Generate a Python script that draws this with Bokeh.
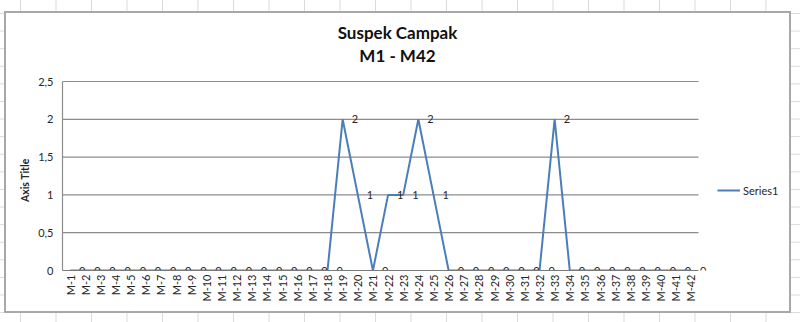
import math
from bokeh.plotting import figure
from bokeh.models import (Range1d, FixedTicker, CustomJSTickFormatter,
                          Label, Legend, LegendItem, ColumnDataSource)
from bokeh.core.properties import value
from bokeh.embed import file_html
from bokeh.resources import INLINE

categories = [f"M-{i}" for i in range(1, 43)]
values = [0] * 18 + [2, 1, 0, 1, 1, 2, 1, 0] + [0] * 6 + [2] + [0] * 9
y_ticks = [0, 0.5, 1, 1.5, 2, 2.5]
title_lines = ["Suspek Campak", "M1 - M42"]
series_name = "Series1"
axis_title = "Axis Title"

FONT = "Lato"
LINE_COLOR = "#4A7EBB"
GRID_COLOR = "#8C8C8C"
TEXT_COLOR = "#262626"

# layout constants (pixels)
W, H = 800, 322
PLOT_L, PLOT_R, PLOT_T, PLOT_B = 62, 698, 81, 270     # value/category plot area
BOX_R, BOX_T = 789, 13                                 # chart box (frame extends to it)

n = len(categories)
xs = [i + 0.5 for i in range(n)]
y_max = y_ticks[-1]
x_end = n * (BOX_R - PLOT_L) / (PLOT_R - PLOT_L)
y_end = y_max * (PLOT_B - BOX_T) / (PLOT_B - PLOT_T)

src = ColumnDataSource(dict(x=xs, y=values, t=[str(v) for v in values]))
grid_src = ColumnDataSource(dict(x0=[0] * (len(y_ticks) - 1), x1=[n] * (len(y_ticks) - 1),
                                 y=y_ticks[1:]))

# spreadsheet-like page background with the chart's bordered box
page_styles = {
    "background-color": "white",
    "background-image": ", ".join([
        "linear-gradient(white, white)",
        "linear-gradient(#a8a8a8, #a8a8a8)",
        "linear-gradient(to right, #dadada 1px, transparent 1px)",
        "linear-gradient(to bottom, #dadada 1px, transparent 1px)",
    ]),
    "background-size": "783px 298px, 787px 302px, 35.5px 17.6px, 35.5px 17.6px",
    "background-position": "6px 13px, 4px 11px, 20px 13px, 20px 13px",
    "background-repeat": "no-repeat, no-repeat, repeat, repeat",
}

p = figure(width=W, height=H, output_backend="svg", toolbar_location=None,
           x_range=Range1d(0, x_end), y_range=Range1d(0, y_end),
           min_border_left=PLOT_L, min_border_right=W - BOX_R,
           min_border_top=BOX_T, min_border_bottom=H - PLOT_B,
           styles=page_styles)
p.outline_line_color = None
p.background_fill_color = None
p.border_fill_color = None
p.xgrid.visible = False
p.ygrid.visible = False

# horizontal gridlines (stop at the end of the category axis)
p.segment(x0="x0", x1="x1", y0="y", y1="y", source=grid_src,
          line_color=GRID_COLOR, line_width=1.2)

r = p.line("x", "y", source=src, line_color=LINE_COLOR, line_width=2)
p.text("x", "y", text="t", source=src, x_offset=9, text_align="left",
       text_baseline="middle", text_font=value(FONT), text_font_size="11px",
       text_color=TEXT_COLOR)

# y axis (label padded with no-break spaces so it centres on the value range)
p.yaxis.bounds = (0, y_max)
p.yaxis.ticker = FixedTicker(ticks=y_ticks)
p.yaxis.formatter = CustomJSTickFormatter(code="return tick.toString().replace('.', ',');")
p.yaxis.axis_label = axis_title + "\u00a0" * 30
p.yaxis.axis_label_text_font = FONT
p.yaxis.axis_label_text_font_size = "10.5px"
p.yaxis.axis_label_text_font_style = "bold"
p.yaxis.axis_label_text_color = TEXT_COLOR
p.yaxis.axis_label_standoff = 4
p.yaxis.major_label_text_font = FONT
p.yaxis.major_label_text_font_size = "11px"
p.yaxis.major_label_text_color = TEXT_COLOR
p.yaxis.major_label_standoff = 9
p.yaxis.major_tick_in = 0
p.yaxis.major_tick_out = 0
p.yaxis.minor_tick_in = 0
p.yaxis.minor_tick_out = 0
p.yaxis.axis_line_color = GRID_COLOR
p.yaxis.axis_line_width = 1.2

# x (category) axis
p.xaxis.bounds = (0, n)
p.xaxis.ticker = FixedTicker(ticks=xs)
p.xaxis.formatter = CustomJSTickFormatter(args=dict(cats=categories),
                                          code="return cats[Math.floor(tick)];")
p.xaxis.major_label_orientation = math.pi / 2
p.xaxis.major_label_text_font = FONT
p.xaxis.major_label_text_font_size = "11px"
p.xaxis.major_label_text_color = TEXT_COLOR
p.xaxis.major_label_standoff = 4
p.xaxis.major_tick_in = 0
p.xaxis.major_tick_out = 0
p.xaxis.minor_tick_in = 0
p.xaxis.minor_tick_out = 0
p.xaxis.axis_line_color = "#7A7A7A"
p.xaxis.axis_line_width = 1.2

# two-line chart title (screen units, from the frame's bottom-left)
title_cx = 397 - PLOT_L
for i, (line, cy) in enumerate(zip(title_lines, [31.7, 54.7])):
    p.add_layout(Label(x=title_cx, y=PLOT_B - cy, x_units="screen", y_units="screen",
                       text=line, text_align="center", text_baseline="middle",
                       text_font=FONT, text_font_size="17px", text_font_style="bold",
                       text_color="#111111"))

legend = Legend(items=[LegendItem(label=series_name, renderers=[r])],
                location=(717 - PLOT_L, 73), orientation="vertical",
                border_line_color=None, background_fill_alpha=0,
                padding=0, margin=0, spacing=0, glyph_width=23, glyph_height=14,
                label_standoff=3, label_text_font=FONT, label_text_font_size="11px",
                label_text_color=TEXT_COLOR)
p.add_layout(legend)

open("out.html", "w").write(file_html(p, INLINE))
